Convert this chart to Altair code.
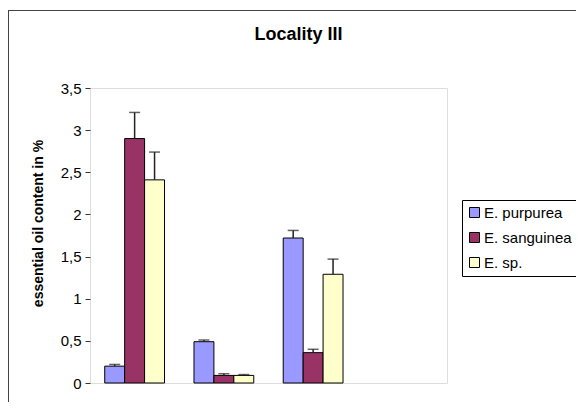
import altair as alt
import pandas as pd

groups = ["1", "2", "3", "4"]
species = ["E. purpurea", "E. sanguinea", "E. sp."]
colors = ["#9999FF", "#993366", "#FFFFCC"]

purpurea = [0.20, 0.49, 1.72]
purpurea_err = [0.02, 0.02, 0.09]
sanguinea = [2.90, 0.09, 0.36]
sanguinea_err = [0.31, 0.02, 0.04]
sp = [2.41, 0.09, 1.29]
sp_err = [0.33, 0.01, 0.18]

y_ticks = [0, 0.5, 1, 1.5, 2, 2.5, 3, 3.5]

rows = []
for sname, vals, errs in [(species[0], purpurea, purpurea_err),
                          (species[1], sanguinea, sanguinea_err),
                          (species[2], sp, sp_err)]:
    for g, v, e in zip(groups[:3], vals, errs):
        rows.append({"group": g, "species": sname, "value": v, "upper": v + e})
df = pd.DataFrame(rows)

FONT = "Liberation Sans"

x_enc = alt.X("group:N", scale=alt.Scale(domain=groups, paddingInner=0.33, paddingOuter=0.165), axis=None)
xo_enc = alt.XOffset("species:N", scale=alt.Scale(domain=species, paddingInner=0, paddingOuter=0))
y_scale = alt.Scale(domain=[0, 3.5], nice=False)

bars = alt.Chart(df).mark_bar(stroke="black", strokeWidth=1).encode(
    x=x_enc,
    xOffset=xo_enc,
    y=alt.Y("value:Q", scale=y_scale,
            axis=alt.Axis(values=y_ticks, grid=False, domain=False,
                          labelExpr="replace(toString(datum.value), '.', ',')",
                          title="essential oil content in %",
                          titleFont=FONT, titleFontSize=14, titleFontWeight="bold",
                          titleColor="black", titleAngle=270,
                          titleX=-52, titleY=135, titleAlign="center", titleBaseline="middle",
                          labelFont=FONT, labelFontSize=15, labelColor="black",
                          labelPadding=4, tickSize=5, tickColor="#333", tickWidth=1)),
    color=alt.Color("species:N", scale=alt.Scale(domain=species, range=colors),
                    legend=alt.Legend(orient="none", legendX=372, legendY=112, title=None,
                                      symbolType="square", symbolSize=100,
                                      symbolStrokeColor="black", symbolStrokeWidth=1,
                                      labelFont=FONT, labelFontSize=15, labelColor="black",
                                      labelOffset=2, rowPadding=9, padding=5,
                                      strokeColor="black", fillColor="white")),
)

err_rule = alt.Chart(df).mark_rule(color="#222", strokeWidth=1.5).encode(
    x=x_enc, xOffset=xo_enc,
    y=alt.Y("value:Q", scale=y_scale),
    y2="upper:Q",
)

err_cap = alt.Chart(df).mark_tick(color="#222", thickness=1.5, size=11, orient="horizontal").encode(
    x=x_enc, xOffset=xo_enc,
    y=alt.Y("upper:Q", scale=y_scale),
)

frame_df = pd.DataFrame({"k": [0]})
frame_left = alt.Chart(frame_df).mark_rule(color="#444", strokeWidth=1).encode(
    x=alt.value(-81.5), y=alt.value(-78), y2=alt.value(320))
frame_top = alt.Chart(frame_df).mark_rule(color="#444", strokeWidth=1).encode(
    x=alt.value(-82), x2=alt.value(500), y=alt.value(-77.5))

chart = alt.layer(bars, err_rule, err_cap, frame_left, frame_top).properties(
    width=357, height=295,
    autosize=alt.AutoSizeParams(type="none"),
    padding={"left": 82, "top": 80, "right": 129, "bottom": 19},
    title=alt.TitleParams("Locality III", font=FONT, fontSize=18, fontWeight="bold",
                          color="black", anchor="middle", dx=30, offset=-34),
).configure_view(stroke="#333", strokeWidth=1).configure(background="white")

chart.save("out.html", embed_options={"renderer": "svg", "actions": False})
